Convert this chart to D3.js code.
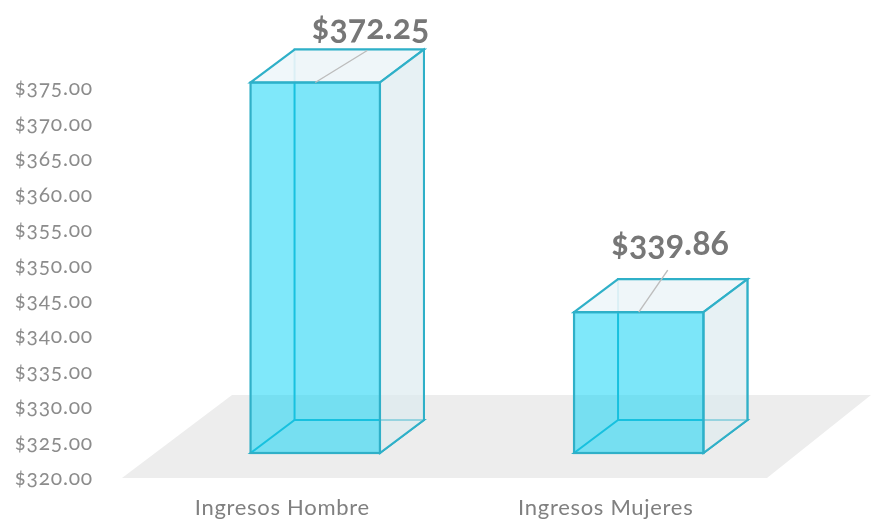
<!DOCTYPE html>
<html>
<head>
<meta charset="utf-8">
<script src="https://cdn.jsdelivr.net/npm/d3@7"></script>
<style>
html, body { margin: 0; background: #fff; }
svg { display: block; }
text { font-family: Lato, "Open Sans", sans-serif; font-variant-numeric: oldstyle-nums; }
</style>
</head>
<body>
<div id="chart"></div>
<script>
var categories = ["Ingresos Hombre", "Ingresos Mujeres"];
var values = [372.25, 339.86];
var valueLabels = ["$372.25", "$339.86"];
var tickValues = [320, 325, 330, 335, 340, 345, 350, 355, 360, 365, 370, 375];

var width = 871, height = 519;
var depth = {x: 44, y: -33};
var baseY = 453;

var svg = d3.select("#chart").append("svg")
	.attr("width", width)
	.attr("height", height)
	.style("filter", "blur(0.6px)");

var x = d3.scaleBand().domain(categories).range([153.5, 800.5]).paddingInner(0.6).paddingOuter(0.3);
var y = d3.scaleLinear().domain([320, 375]).range([baseY, baseY - 390]);

function pts(list) {
	return list.map(function(p) { return p.join(","); }).join(" ");
}

// floor
svg.append("polygon")
	.attr("points", pts([[122, 478], [767, 478], [871, 395], [232, 395]]))
	.attr("fill", "#ededed");

// y axis, sits on the front edge of the floor
var axis = svg.append("g")
	.attr("transform", "translate(93,25)")
	.call(d3.axisLeft(y).tickValues(tickValues).tickSize(0).tickPadding(0).tickFormat(d3.format("$.2f")));
axis.select(".domain").remove();
axis.selectAll("text")
	.attr("font-size", 21)
	.attr("letter-spacing", 0.8)
	.attr("fill", "#8c8c8c")
	.style("font-family", "Lato, sans-serif");

// category labels
svg.selectAll(".cat").data(categories).enter().append("text")
	.attr("class", "cat")
	.attr("x", function(d) { return x(d) + x.bandwidth() / 2 - 33; })
	.attr("y", 515)
	.attr("text-anchor", "middle")
	.attr("font-size", 22)
	.attr("letter-spacing", 0.7)
	.attr("fill", "#808080")
	.text(function(d) { return d; });

var bars = svg.selectAll(".bar").data(categories).enter().append("g").attr("class", "bar");

bars.each(function(d, i) {
	var g = d3.select(this);
	var x0 = x(d), x1 = x0 + x.bandwidth(), top = y(values[i]), bot = y(320);
	var dx = depth.x, dy = depth.y;
	var edge = "#2fb0c8";

	// back, floor, top, right faces
	g.append("polygon").attr("points", pts([[x0 + dx, top + dy], [x1 + dx, top + dy], [x1 + dx, bot + dy], [x0 + dx, bot + dy]]))
		.attr("fill", "#dcebef").attr("fill-opacity", 0.2).attr("stroke", edge).attr("stroke-width", 2);
	g.append("polygon").attr("points", pts([[x0, bot], [x1, bot], [x1 + dx, bot + dy], [x0 + dx, bot + dy]]))
		.attr("fill", "none").attr("stroke", edge).attr("stroke-width", 2);
	g.append("polygon").attr("points", pts([[x0, top], [x1, top], [x1 + dx, top + dy], [x0 + dx, top + dy]]))
		.attr("fill", "#eef6f9").attr("fill-opacity", 0.9).attr("stroke", edge).attr("stroke-width", 2.2);
	g.append("polygon").attr("points", pts([[x1, top], [x1 + dx, top + dy], [x1 + dx, bot + dy], [x1, bot]]))
		.attr("fill", "#dcebee").attr("fill-opacity", 0.6).attr("stroke", edge).attr("stroke-width", 2);
	// front face
	g.append("rect").attr("x", x0).attr("y", top).attr("width", x1 - x0).attr("height", bot - top)
		.attr("fill", "#00d2f5").attr("fill-opacity", 0.5).attr("stroke", edge).attr("stroke-width", 2.2);
});

// leader lines and value labels
var leaderEnd = [[52, -32], [29, -42]];
var labelShift = [[55, -44], [31, -57]];

svg.selectAll(".leader").data(categories).enter().append("line")
	.attr("class", "leader")
	.attr("x1", function(d) { return x(d) + x.bandwidth() / 2; })
	.attr("y1", function(d, i) { return y(values[i]); })
	.attr("x2", function(d, i) { return x(d) + x.bandwidth() / 2 + leaderEnd[i][0]; })
	.attr("y2", function(d, i) { return y(values[i]) + leaderEnd[i][1]; })
	.attr("stroke", "#bdbdbd")
	.attr("stroke-width", 1.4);

svg.selectAll(".val").data(categories).enter().append("text")
	.attr("class", "val")
	.attr("x", function(d, i) { return x(d) + x.bandwidth() / 2 + labelShift[i][0]; })
	.attr("y", function(d, i) { return y(values[i]) + labelShift[i][1]; })
	.attr("text-anchor", "middle")
	.attr("font-size", 34)
	.attr("font-weight", 700)
	.attr("fill", "#777")
	.text(function(d, i) { return valueLabels[i]; });
</script>
</body>
</html>
